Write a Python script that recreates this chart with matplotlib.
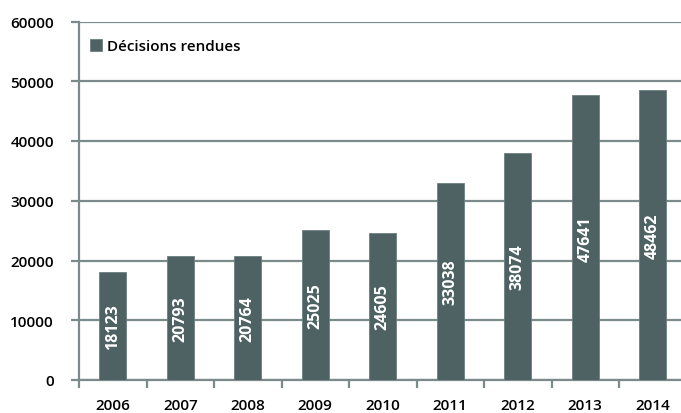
import matplotlib
matplotlib.use("Agg")
import matplotlib.pyplot as plt
import numpy as np

years = ["2006", "2007", "2008", "2009", "2010", "2011", "2012", "2013", "2014"]
decisions = [18123, 20793, 20764, 25025, 24605, 33038, 38074, 47641, 48462]
yticks = [0, 10000, 20000, 30000, 40000, 50000, 60000]
series_name = "Décisions rendues"

bar_color = "#4e6263"
grid_color = "#7b8b8b"
plt.rcParams["font.family"] = ["Open Sans", "DejaVu Sans"]

fig = plt.figure(figsize=(6.81, 4.14), dpi=100)
W, H = 681, 414
left, right = 79, 686.5
bottom, top = 381, 22.5
ax = fig.add_axes([left / W, 1 - bottom / H, (right - left) / W, (bottom - top) / H])

x = np.arange(len(years))
bars = ax.bar(x, decisions, width=0.4, color=bar_color, edgecolor="#6d7f80",
              linewidth=0.6, zorder=3, label=series_name)

for xi, v in zip(x, decisions):
    ax.text(xi, v / 2, str(v), rotation=90, ha="center", va="center",
            color="white", fontsize=11.5, fontweight="bold", zorder=4)

ax.set_xlim(-0.5, len(years) - 0.5)
ax.set_ylim(0, 60000)
ax.set_yticks(yticks)
ax.set_yticklabels([str(t) for t in yticks], fontsize=11, fontweight="semibold")
ax.set_xticks(x)
ax.set_xticklabels(years, fontsize=11, fontweight="semibold")
ax.set_xticks(np.arange(len(years) + 1) - 0.5, minor=True)

ax.yaxis.grid(True, color=grid_color, linewidth=1.6, zorder=0)
ax.set_axisbelow(True)
for side in ["top", "right"]:
    ax.spines[side].set_visible(False)
ax.spines["left"].set_color(grid_color)
ax.spines["left"].set_linewidth(1.6)
ax.spines["bottom"].set_color(grid_color)
ax.spines["bottom"].set_linewidth(1.6)

ax.tick_params(axis="y", direction="out", length=6, width=1.6, color=grid_color,
               pad=12, labelcolor="black")
ax.tick_params(axis="x", which="major", length=0, pad=13, labelcolor="black")
ax.tick_params(axis="x", which="minor", direction="out", length=6, width=1.6,
               color=grid_color)

leg = ax.legend(loc="upper left", bbox_to_anchor=(-0.005, 0.99), frameon=False,
                handlelength=0.8, handleheight=0.8, handletextpad=0.3,
                prop={"size": 11, "weight": "semibold"})

fig.savefig("out.png", dpi=100)
